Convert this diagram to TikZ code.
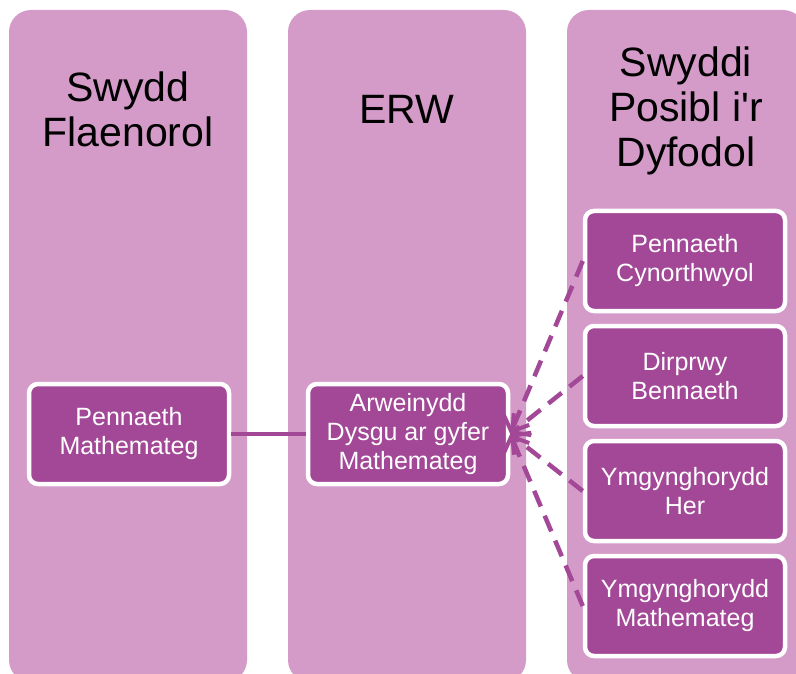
\documentclass[tikz,border=0pt]{standalone}
\usepackage{fontspec}
\setmainfont{Liberation Sans}
\usepackage{xcolor}
\usetikzlibrary{arrows.meta}
\definecolor{colbg}{RGB}{212,155,201}
\definecolor{rolefill}{RGB}{162,72,151}

\begin{document}
\begin{tikzpicture}[x=1pt,y=-1pt,
  col/.style={fill=colbg,rounded corners=22pt},
  head/.style={font=\fontsize{41}{45}\selectfont,align=center,inner sep=0pt},
  role/.style={fill=rolefill,draw=white,line width=4.5pt,rounded corners=9pt,
    minimum width=200pt,minimum height=100pt,text=white,align=center,
    font=\fontsize{25}{29}\selectfont,inner sep=0pt},
  link/.style={draw=rolefill,line width=4.5pt},
  dlink/.style={draw=rolefill,line width=4.5pt,dash pattern=on 17pt off 10pt,
    -{Straight Barb[length=13pt,width=28pt,line width=4pt]}}]
\useasboundingbox (0,0) rectangle (796,674);
\fill[col] (9,10) rectangle (247,682);
\fill[col] (288,10) rectangle (526,682);
\fill[col] (567,10) rectangle (805,682);
\node[head] (h1) at (128,109) {Swydd\\Flaenorol};
\node[head] (h2) at (407,109) {ERW};
\node[head] (h3) at (686,111) {Swyddi\\Posibl i\textquotesingle r\\Dyfodol};
\node[role] (p1) at (129,434) {Pennaeth\\Mathemateg};
\node[role] (e1) at (408,434) {Arweinydd\\Dysgu ar gyfer\\Mathemateg};
\node[role] (f1) at (685,261) {Pennaeth\\Cynorthwyol};
\node[role] (f2) at (685,376) {Dirprwy\\Bennaeth};
\node[role] (f3) at (685,491) {Ymgynghorydd\\Her};
\node[role] (f4) at (685,606) {Ymgynghorydd\\Mathemateg};
\draw[link] (p1) -- (e1);
\draw[dlink] (f1.west) -- (e1.east);
\draw[dlink] (f2.west) -- (e1.east);
\draw[dlink] (f3.west) -- (e1.east);
\draw[dlink] (f4.west) -- (e1.east);
\end{tikzpicture}
\end{document}
